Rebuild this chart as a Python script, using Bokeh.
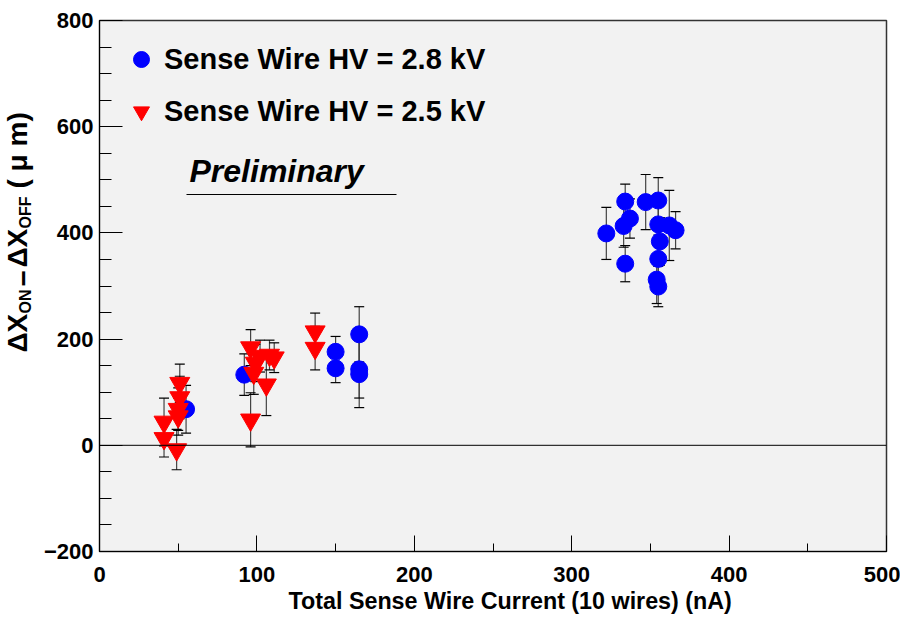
import math
from bokeh.plotting import figure
from bokeh.layouts import row
from bokeh.models import (ColumnDataSource, Whisker, TeeHead, Span, Label, Range1d,
                          SingleIntervalTicker, Legend, LegendItem, Title)
from bokeh.embed import file_html
from bokeh.resources import INLINE

# ---- data ----
blue_x = [55, 92, 150, 150, 165, 165, 165,
          322, 334, 337, 333, 334, 347, 355, 355, 362, 366, 356, 355, 354, 355]
blue_y = [68, 133, 176, 145, 209, 143, 134,
          399, 459, 427, 413, 342, 458, 461, 416, 414, 405, 384, 351, 312, 299]
blue_err = [45, 39, 29, 27, 52, 54, 63,
            49, 33, 37, 40, 34, 52, 43, 40, 66, 35, 45, 45, 45, 38]

red_x = [41, 41, 49, 50, 50, 51, 51,
         96, 102, 108, 111, 99, 98, 106, 96,
         137, 137]
red_y = [44, 13, -8, 54, 68, 90, 117,
         184, 168, 170, 165, 155, 136, 114, 48,
         214, 183]
red_err = [45, 35, 38, 35, 40, 40, 36,
           34, 30, 28, 28, 35, 40, 58, 51,
           35, 41]

legend_labels = ["Sense Wire HV = 2.8 kV", "Sense Wire HV = 2.5 kV"]
x_title = "Total Sense Wire Current (10 wires)  (nA)"
y_title_parts = ["ΔX", "ON", "−", "ΔX", "OFF", "( μ m)"]
x_range = (0, 500)
y_range = (-200, 800)

FONT = "Liberation Sans"
OFF = 1          # canvas offset on the page

# page geometry
YLAB_W = 40
FL, FR, FT, FB = 99, 886, 21, 552

def dx(px):
    return x_range[0] + (px - FL) * (x_range[1] - x_range[0]) / (FR - FL)
def dy(py):
    return y_range[1] - (py - FT) * (y_range[1] - y_range[0]) / (FB - FT)

p = figure(frame_width=FR - FL, frame_height=FB - FT,
           x_range=Range1d(*x_range), y_range=Range1d(*y_range),
           output_backend="svg", toolbar_location=None,
           min_border_left=FL - OFF - YLAB_W, min_border_top=FT - OFF,
           min_border_right=14, min_border_bottom=40)
p.background_fill_color = "#f2f2f2"
p.border_fill_color = "white"
p.outline_line_color = "#333333"
p.outline_line_width = 1.5
p.xgrid.visible = False
p.ygrid.visible = False

p.xaxis.ticker = SingleIntervalTicker(interval=100, num_minor_ticks=2)
p.yaxis.ticker = SingleIntervalTicker(interval=200, num_minor_ticks=4)
for ax in (p.xaxis, p.yaxis):
    ax.axis_line_color = "black"
    ax.major_tick_line_color = "black"
    ax.minor_tick_line_color = "black"
    ax.major_tick_out = 0
    ax.minor_tick_out = 0
    ax.major_label_text_font = FONT
    ax.major_label_text_font_style = "bold"
    ax.major_label_text_font_size = "22px"
    ax.major_label_text_color = "black"
p.xaxis.major_tick_in = 16
p.xaxis.minor_tick_in = 8
p.yaxis.major_tick_in = 23
p.yaxis.minor_tick_in = 12
p.xaxis.major_label_standoff = 15
p.yaxis.major_label_standoff = 6

# x axis title below the axis, shifted like the reference
p.add_layout(Title(text=x_title, align="left", offset=189, standoff=3,
                   text_font=FONT, text_font_style="bold", text_font_size="23.3px",
                   text_color="black"), "below")

# zero line
p.add_layout(Span(location=0, dimension="width", line_color="black", line_width=1))

# error bars
bsrc = ColumnDataSource(dict(x=blue_x, y=blue_y,
                             lo=[a - b for a, b in zip(blue_y, blue_err)],
                             hi=[a + b for a, b in zip(blue_y, blue_err)]))
rsrc = ColumnDataSource(dict(x=red_x, y=red_y,
                             lo=[a - b for a, b in zip(red_y, red_err)],
                             hi=[a + b for a, b in zip(red_y, red_err)]))
for src in (bsrc, rsrc):
    p.add_layout(Whisker(base="x", lower="lo", upper="hi", source=src,
                         dimension="height", line_color="#444444", line_width=1.2,
                         upper_head=TeeHead(size=10, line_color="black", line_width=1.2),
                         lower_head=TeeHead(size=10, line_color="black", line_width=1.2)))

rb = p.scatter("x", "y", source=bsrc, marker="circle", size=17,
               fill_color="#0000ff", line_color="#0000ff")
rr = p.scatter("x", "y", source=rsrc, marker="inverted_triangle", size=20,
               fill_color="#ff0000", line_color="#ff0000")

legend = Legend(items=[LegendItem(label=legend_labels[0], renderers=[rb]),
                       LegendItem(label=legend_labels[1], renderers=[rr])],
                location=(22, 420), padding=0, margin=0, spacing=12,
                glyph_width=40, glyph_height=40, label_standoff=3,
                background_fill_alpha=0, border_line_alpha=0,
                label_text_font=FONT, label_text_font_style="bold",
                label_text_font_size="29px", label_text_color="black")
p.add_layout(legend, "center")

# Preliminary with underline
p.add_layout(Label(x=dx(189), y=dy(189), text="Preliminary",
                   text_font=FONT, text_font_style="bold italic",
                   text_font_size="32px", text_color="black"))
p.segment(x0=[dx(186)], y0=[dy(195)], x1=[dx(396)], y1=[dy(195)],
          line_color="black", line_width=1.2)

# ---- y-axis title strip: same vertical frame/range as the main plot ----
ylab = figure(frame_width=YLAB_W, frame_height=FB - FT,
              x_range=Range1d(0, YLAB_W), y_range=Range1d(*y_range),
              x_axis_type=None, y_axis_type=None,
              output_backend="svg", toolbar_location=None,
              min_border_left=0, min_border_right=0,
              min_border_top=FT - OFF, min_border_bottom=40)
ylab.outline_line_color = None
ylab.xgrid.visible = False
ylab.ygrid.visible = False
# (start position on the page, baseline x on the page, font size)
ypos = [(353, 33, "28px"), (314, 34, "16px"), (287, 33, "28px"),
        (268, 33, "28px"), (229, 34, "16px"), (189, 33, "28px")]
for txt, (py, px, fs) in zip(y_title_parts, ypos):
    ylab.add_layout(Label(x=px - OFF, y=dy(py), text=txt, angle=math.pi / 2,
                          text_font=FONT, text_font_style="bold", text_font_size=fs,
                          text_color="black"))

layout = row(ylab, p, spacing=0)
open("out.html", "w").write(file_html(layout, INLINE))
